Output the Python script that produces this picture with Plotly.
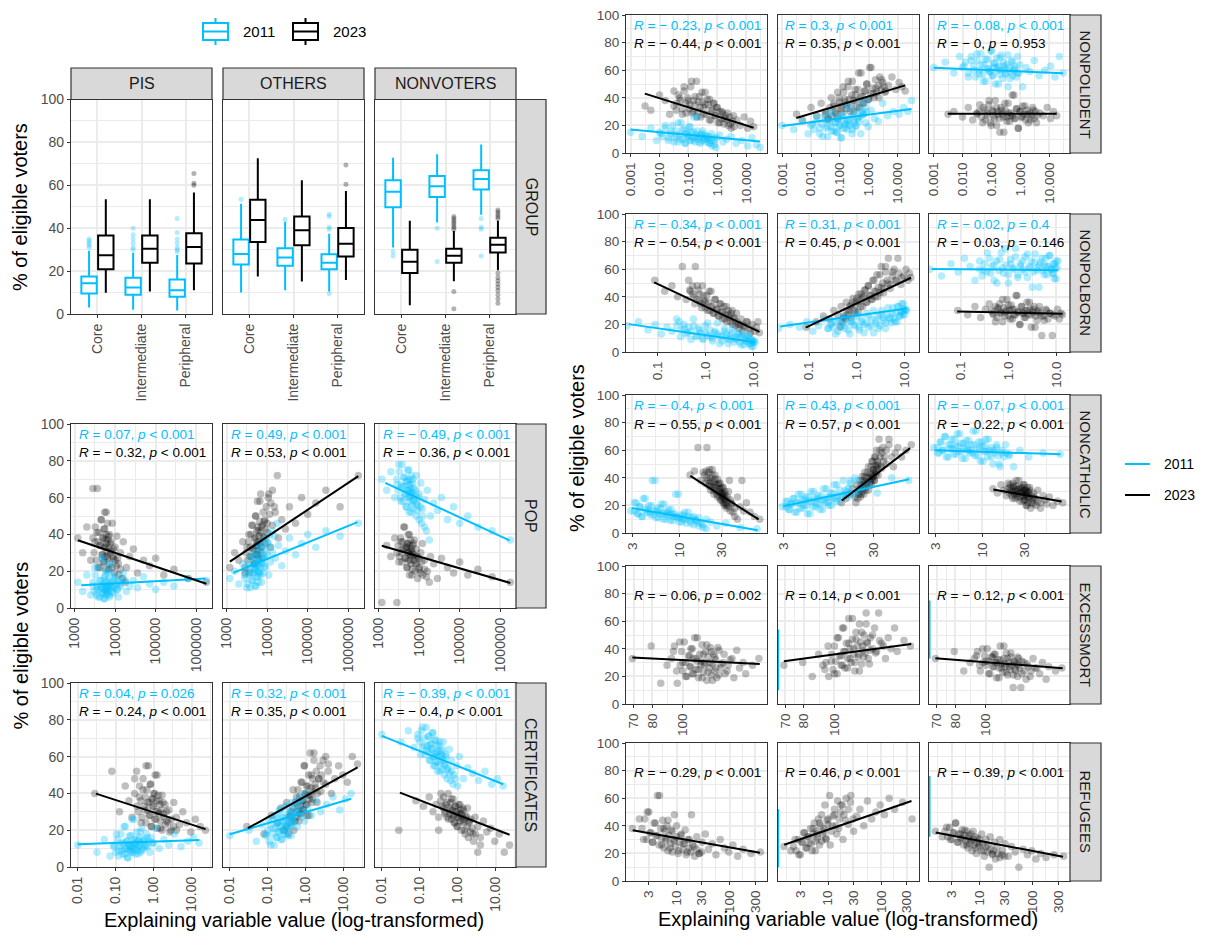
import plotly.graph_objects as go

W, H = 1207, 936
FONT = "Liberation Sans, Arial, sans-serif"
BLUE = "#00BFFF"
BLACK = "#000000"
BLUE_PT = "rgba(0,191,255,0.30)"
BLACK_PT = "rgba(0,0,0,0.25)"
GRID = "#EBEBEB"
BORDER = "#333333"
TICKC = "#4D4D4D"
STRIPC = "#D9D9D9"
STRIP_TXT = "#1A1A1A"

years = ["2011", "2023"]
groups = ["PIS", "OTHERS", "NONVOTERS"]
categories = ["Core", "Intermediate", "Peripheral"]
y_ticks = [0, 20, 40, 60, 80, 100]
y_minor = [10, 30, 50, 70, 90]

# ---------------- GROUP boxplots (Core, Intermediate, Peripheral) ----------------
pis_2011_q1 = [9.5, 9.0, 8.0]
pis_2011_med = [14.3, 12.3, 11.1]
pis_2011_q3 = [17.5, 16.9, 16.1]
pis_2011_lo = [3.0, 2.0, 1.6]
pis_2011_hi = [29.5, 28.5, 27.5]
pis_2011_out = {"Core": [31, 32, 33, 34, 35], "Intermediate": [30, 31, 33, 35, 37, 40],
                "Peripheral": [29, 30, 31, 33, 35, 38, 44.5]}
pis_2023_q1 = [20.9, 23.9, 23.6]
pis_2023_med = [27.4, 30.4, 31.2]
pis_2023_q3 = [36.6, 36.6, 37.6]
pis_2023_lo = [9.9, 10.5, 11.1]
pis_2023_hi = [53.5, 53.5, 56.7]
pis_2023_out = {"Peripheral": [60, 61, 65.5]}
oth_2011_q1 = [23.1, 22.5, 20.9]
oth_2011_med = [28.0, 26.3, 23.9]
oth_2011_q3 = [34.7, 30.7, 27.9]
oth_2011_lo = [10.0, 11.1, 10.5]
oth_2011_hi = [51.4, 43.0, 37.4]
oth_2011_out = {"Core": [53.5], "Intermediate": [44], "Peripheral": [9.5, 39.5, 40.5, 45.5, 46.5]}
oth_2023_q1 = [33.6, 32.0, 26.8]
oth_2023_med = [43.8, 39.0, 32.8]
oth_2023_q3 = [53.3, 45.4, 40.1]
oth_2023_lo = [17.5, 15.1, 15.9]
oth_2023_hi = [72.6, 62.3, 57.3]
oth_2023_out = {"Peripheral": [60.5, 69.5]}
nv_2011_q1 = [49.8, 54.5, 58.1]
nv_2011_med = [57.0, 59.6, 62.9]
nv_2011_q3 = [62.3, 64.3, 67.0]
nv_2011_lo = [31.0, 42.7, 46.3]
nv_2011_hi = [72.9, 74.5, 79.0]
nv_2011_out = {"Core": [29, 27], "Intermediate": [40, 24.5], "Peripheral": [44.5, 39.5, 40.5, 27]}
nv_2023_q1 = [19.1, 23.9, 28.7]
nv_2023_med = [24.4, 27.1, 32.3]
nv_2023_q3 = [29.9, 30.4, 35.5]
nv_2023_lo = [4.1, 15.3, 20.4]
nv_2023_hi = [43.5, 38.7, 43.5]
nv_2023_out = {"Intermediate": [39.5, 40.5, 41.5, 42.5, 43.5, 44.5, 45.5, 10.5, 2.5],
               "Peripheral": [44.5, 45.5, 46.5, 47.5, 48.5, 19, 17, 15.5, 14, 12.5, 11, 9, 7, 5]}

# ---------------- explanatory variables (x): full spread + dense core municipalities ----------------
pop_x = [1200, 1580, 2000, 2500, 2820, 3160, 3550, 3800, 4170, 4470, 4790, 5010, 5250, 5500, 5750,
         6030, 6310, 6610, 6920, 7240, 7590, 7940, 8510, 9120, 10000, 10960, 12020, 13490, 15850,
         19050, 22910, 28180, 35480, 50120, 70790, 100000, 158500, 281800, 631000, 1778000]
pop_x_core = [2820, 3020, 3240, 3470, 3630, 3800, 3980, 4170, 4370, 4570, 4790, 5010, 5130, 5250,
              5370, 5500, 5620, 5750, 5890, 6030, 6170, 6310, 6460, 6610, 6760, 6920, 7240, 7590,
              7940, 8320, 8710, 9120, 9550, 10000, 10700, 11500, 12300, 13500, 15100, 17800]
cert_x_2011 = [0.010, 0.032, 0.050, 0.071, 0.089, 0.105, 0.12, 0.135, 0.151, 0.166, 0.182, 0.195,
               0.209, 0.224, 0.24, 0.251, 0.269, 0.282, 0.302, 0.316, 0.339, 0.363, 0.389, 0.417,
               0.447, 0.49, 0.537, 0.603, 0.676, 0.794, 0.933, 1.12, 1.41, 1.86, 2.51, 3.55, 5.25,
               7.94, 11.2, 15.8]
cert_x_core_2011 = [0.089, 0.1, 0.11, 0.12, 0.129, 0.138, 0.148, 0.158, 0.17, 0.178, 0.186, 0.195,
                    0.204, 0.214, 0.224, 0.234, 0.245, 0.257, 0.269, 0.282, 0.295, 0.309, 0.324, 0.339,
                    0.355, 0.372, 0.389, 0.407, 0.427, 0.447, 0.468, 0.49, 0.525, 0.562, 0.603, 0.646,
                    0.692, 0.759, 0.851, 1.0]
cert_x_2023 = [0.028, 0.079, 0.126, 0.178, 0.224, 0.269, 0.316, 0.363, 0.417, 0.468, 0.525, 0.575,
               0.631, 0.692, 0.759, 0.813, 0.871, 0.933, 1.0, 1.07, 1.15, 1.23, 1.32, 1.41, 1.51,
               1.66, 1.82, 2.0, 2.24, 2.51, 2.88, 3.39, 3.98, 4.79, 5.89, 7.41, 9.55, 12.6, 17.0, 23.4]
cert_x_core_2023 = [0.316, 0.355, 0.389, 0.427, 0.457, 0.49, 0.525, 0.562, 0.603, 0.631, 0.661, 0.692,
                    0.724, 0.759, 0.794, 0.832, 0.871, 0.912, 0.955, 1.0, 1.05, 1.1, 1.15, 1.2, 1.26,
                    1.32, 1.38, 1.45, 1.51, 1.58, 1.66, 1.78, 1.91, 2.04, 2.19, 2.4, 2.63, 2.95, 3.39, 3.98]
nonpolident_x_2011 = [0.001, 0.0025, 0.005, 0.0079, 0.0112, 0.0158, 0.02, 0.0251, 0.0316, 0.038,
                      0.0447, 0.0525, 0.0631, 0.0741, 0.0871, 0.1, 0.115, 0.132, 0.151, 0.174, 0.2,
                      0.229, 0.269, 0.316, 0.372, 0.437, 0.525, 0.631, 0.776, 0.955, 1.2, 1.58,
                      2.14, 3.02, 4.47, 7.08, 11.2, 15.8, 22.4, 30.2]
nonpolident_x_core_2011 = [0.01, 0.0126, 0.0158, 0.02, 0.024, 0.0282, 0.0331, 0.038, 0.0437, 0.0501,
                           0.0562, 0.0631, 0.0708, 0.0794, 0.0871, 0.0955, 0.105, 0.115, 0.126, 0.138,
                           0.151, 0.166, 0.182, 0.2, 0.219, 0.24, 0.263, 0.288, 0.316, 0.347, 0.38,
                           0.417, 0.457, 0.501, 0.55, 0.603, 0.661, 0.724, 0.794, 0.891]
nonpolident_x_2023 = [0.00316, 0.005, 0.01, 0.0158, 0.0224, 0.0316, 0.0398, 0.0501, 0.0603, 0.0708,
                      0.0832, 0.0977, 0.112, 0.129, 0.148, 0.17, 0.195, 0.224, 0.257, 0.295, 0.339,
                      0.389, 0.447, 0.525, 0.617, 0.724, 0.851, 1.0, 1.2, 1.45, 1.78, 2.24, 2.82,
                      3.63, 4.79, 6.31, 8.51, 11.2, 14.1, 18.2]
nonpolident_x_core_2023 = [0.0316, 0.038, 0.0447, 0.0525, 0.0617, 0.0708, 0.0813, 0.0933, 0.107, 0.12,
                           0.135, 0.151, 0.17, 0.191, 0.214, 0.24, 0.269, 0.302, 0.339, 0.38, 0.427,
                           0.479, 0.537, 0.603, 0.676, 0.759, 0.851, 0.955, 1.07, 1.2, 1.35, 1.51, 1.7,
                           1.91, 2.14, 2.4, 2.69, 3.02, 3.39, 3.8]
nonpolborn_x_2011 = [0.0229, 0.0398, 0.0631, 0.0891, 0.12, 0.158, 0.2, 0.251, 0.302, 0.363, 0.427,
                     0.501, 0.575, 0.661, 0.759, 0.871, 1.0, 1.12, 1.26, 1.41, 1.58, 1.78, 2.0, 2.24,
                     2.51, 2.82, 3.16, 3.55, 3.98, 4.47, 5.01, 5.62, 6.31, 7.08, 7.94, 8.71, 9.33,
                     10.0, 10.5, 11.0]
nonpolborn_x_core_2011 = [0.251, 0.282, 0.316, 0.355, 0.398, 0.447, 0.501, 0.562, 0.631, 0.708, 0.794,
                          0.891, 1.0, 1.12, 1.26, 1.41, 1.58, 1.78, 2.0, 2.24, 2.51, 2.75, 3.02, 3.31,
                          3.63, 3.98, 4.37, 4.79, 5.25, 5.62, 6.03, 6.46, 6.92, 7.41, 7.94, 8.32, 8.71,
                          9.12, 9.55, 10.0]
nonpolborn_x_2023 = [0.0871, 0.141, 0.2, 0.263, 0.331, 0.398, 0.468, 0.537, 0.603, 0.676, 0.759,
                     0.832, 0.912, 1.0, 1.1, 1.2, 1.32, 1.45, 1.58, 1.74, 1.91, 2.09, 2.29, 2.51,
                     2.75, 3.02, 3.31, 3.63, 3.98, 4.47, 5.01, 5.62, 6.31, 7.24, 8.32, 9.55, 10.7,
                     11.7, 12.6, 13.5]
nonpolborn_x_core_2023 = [0.447, 0.49, 0.537, 0.575, 0.617, 0.661, 0.708, 0.759, 0.813, 0.871, 0.933,
                          1.0, 1.07, 1.15, 1.23, 1.32, 1.41, 1.51, 1.62, 1.74, 1.86, 2.0, 2.14, 2.29,
                          2.45, 2.63, 2.82, 3.02, 3.24, 3.47, 3.72, 3.98, 4.27, 4.57, 5.01, 5.5, 6.03,
                          6.76, 7.59, 8.71]
noncatholic_x_2011 = [2.88, 3.16, 3.39, 3.63, 3.89, 4.17, 4.47, 4.68, 4.9, 5.13, 5.37, 5.62, 5.89,
                      6.17, 6.46, 6.76, 7.08, 7.41, 7.76, 8.13, 8.51, 8.91, 9.33, 9.77, 10.2, 10.7,
                      11.2, 11.7, 12.6, 13.5, 14.5, 15.5, 16.6, 18.2, 20.0, 22.4, 26.3, 33.1, 47.9, 74.1]
noncatholic_x_core_2011 = [3.16, 3.31, 3.47, 3.63, 3.8, 3.98, 4.17, 4.37, 4.57, 4.79, 5.01, 5.25, 5.5,
                           5.75, 6.03, 6.31, 6.61, 6.92, 7.24, 7.59, 7.94, 8.32, 8.71, 9.12, 9.55, 10.0,
                           10.5, 11.0, 11.5, 12.0, 12.6, 13.2, 13.8, 14.5, 15.1, 15.8, 16.6, 17.4,
                           18.6, 20.0]
noncatholic_x_2023 = [13.2, 14.8, 16.2, 17.4, 18.6, 19.5, 20.4, 21.4, 21.9, 22.4, 22.9, 23.4, 24.0,
                      24.5, 25.1, 25.7, 26.3, 26.9, 27.5, 28.2, 28.8, 29.5, 30.2, 30.9, 31.6, 32.4,
                      33.1, 33.9, 35.5, 37.2, 38.9, 41.7, 44.7, 47.9, 50.1, 52.5, 56.2, 61.7, 69.2, 79.4]
noncatholic_x_core_2023 = [19.1, 20.0, 20.4, 20.9, 21.4, 21.9, 22.4, 22.9, 23.4, 24.0, 24.5, 25.1,
                           25.7, 26.3, 26.9, 27.5, 28.2, 28.5, 28.8, 29.2, 29.5, 29.9, 30.2, 30.5,
                           30.9, 31.3, 31.6, 32.0, 32.4, 32.7, 33.1, 33.9, 34.7, 35.5, 36.3, 37.2,
                           38.0, 39.8, 41.7, 44.7]
excessmort_x_2023 = [69.2, 79.4, 85.1, 89.1, 93.3, 95.5, 97.7, 100, 102, 105, 106, 107, 108, 110,
                     111, 112, 114, 115, 116, 117, 119, 120, 122, 123, 124, 126, 127, 129, 130, 132,
                     135, 138, 141, 145, 148, 151, 155, 158, 166, 174]
excessmort_x_core_2023 = [92, 94, 96, 98, 99, 100, 101, 102, 103, 104, 105, 106, 107, 108, 109, 110,
                          111, 112, 113, 114, 115, 116, 117, 118, 119, 120, 121, 122, 123, 124, 125,
                          126, 127, 128, 130, 132, 134, 136, 139, 143]
refugees_x_2023 = [1.48, 2.0, 2.4, 2.82, 3.16, 3.55, 3.98, 4.37, 4.79, 5.25, 5.75, 6.31, 6.92, 7.59,
                   8.32, 9.12, 10.0, 11.0, 12.0, 13.2, 14.5, 15.8, 17.4, 19.1, 21.4, 24.0, 26.9,
                   30.2, 34.7, 39.8, 46.8, 55.0, 66.1, 79.4, 95.5, 115, 141, 178, 251, 380]
refugees_x_core_2023 = [2.24, 2.51, 2.75, 3.02, 3.31, 3.55, 3.8, 4.07, 4.37, 4.68, 5.01, 5.25, 5.5,
                        5.75, 6.03, 6.31, 6.61, 6.92, 7.24, 7.59, 7.94, 8.32, 8.71, 9.12, 9.55, 10.0,
                        10.7, 11.5, 12.3, 13.2, 14.1, 15.1, 16.2, 17.4, 18.6, 20.0, 21.9, 24.0, 26.3, 29.5]

# ---------------- % of eligible voters (y) ----------------
pop_pis_2011 = [14, 9, 18, 7, 12, 22, 10, 6, 15, 11, 27, 8, 13, 5, 17, 10, 9, 20, 12, 7,
                14, 11, 24, 8, 16, 10, 6, 13, 19, 9, 12, 15, 11, 17, 13, 10, 14, 12, 16, 15]
pop_pis_2023 = [38, 30, 44, 26, 65, 36, 41, 22, 34, 48, 29, 38, 25, 43, 33, 52, 28, 37, 21, 40,
                35, 31, 46, 27, 33, 39, 24, 30, 36, 22, 28, 32, 19, 26, 23, 27, 18, 21, 16, 14]
pop_oth_2011 = [16, 20, 13, 24, 18, 11, 22, 28, 15, 19, 25, 21, 12, 30, 23, 17, 26, 20, 33, 14,
                24, 19, 28, 22, 36, 18, 25, 30, 27, 34, 23, 31, 38, 29, 35, 40, 33, 42, 39, 46]
pop_oth_2023 = [22, 30, 26, 36, 19, 33, 40, 28, 45, 32, 24, 38, 50, 34, 29, 42, 36, 58, 31, 44,
                27, 39, 47, 35, 41, 62, 33, 45, 52, 38, 48, 43, 55, 46, 60, 51, 57, 64, 55, 72]
pop_nv_2011 = [70, 64, 74, 60, 67, 78, 58, 66, 71, 62, 55, 69, 64, 75, 60, 67, 52, 63, 70, 58,
               65, 61, 72, 56, 62, 68, 54, 59, 64, 50, 57, 53, 60, 48, 55, 46, 50, 44, 42, 37]
pop_nv_2023 = [3, 34, 28, 38, 30, 25, 36, 32, 44, 27, 33, 22, 35, 30, 40, 26, 31, 18, 34, 29,
               37, 24, 32, 28, 21, 30, 35, 26, 20, 28, 24, 16, 27, 22, 19, 25, 18, 21, 17, 14]

cert_pis_2011 = [12, 8, 15, 6, 11, 18, 9, 13, 7, 22, 10, 14, 5, 12, 9, 17, 11, 8, 26, 13,
                 10, 15, 7, 12, 19, 9, 14, 11, 16, 8, 13, 21, 10, 15, 12, 18, 11, 14, 16, 13]
cert_pis_2023 = [40, 52, 30, 44, 36, 27, 48, 33, 38, 24, 42, 31, 55, 35, 28, 45, 22, 37, 33, 40,
                 26, 50, 30, 36, 21, 39, 29, 34, 25, 31, 20, 35, 27, 23, 30, 24, 19, 26, 22, 20]
cert_oth_2011 = [17, 20, 14, 23, 18, 26, 12, 21, 28, 16, 24, 19, 31, 22, 15, 27, 20, 25, 18, 33,
                 23, 21, 29, 17, 26, 24, 30, 22, 35, 27, 25, 32, 28, 36, 30, 34, 38, 31, 37, 40]
cert_oth_2023 = [22, 18, 28, 24, 32, 20, 35, 27, 30, 42, 25, 38, 33, 29, 46, 36, 31, 55, 40, 34,
                 44, 28, 39, 50, 37, 62, 43, 35, 48, 41, 58, 45, 52, 40, 48, 55, 50, 46, 60, 56]
cert_nv_2011 = [72, 68, 74, 65, 70, 61, 76, 66, 63, 71, 58, 67, 64, 73, 60, 55, 69, 62, 57, 66,
                52, 63, 60, 68, 56, 61, 53, 64, 58, 50, 55, 60, 48, 54, 51, 47, 52, 45, 48, 44]
cert_nv_2023 = [20, 36, 33, 38, 30, 34, 27, 40, 32, 29, 35, 26, 31, 37, 28, 24, 33, 30, 22, 27,
                34, 29, 25, 31, 20, 28, 32, 24, 26, 18, 27, 22, 16, 25, 19, 21, 14, 18, 8, 12]

nonpolident_pis_2011 = [15, 12, 18, 9, 14, 20, 11, 16, 8, 13, 22, 10, 17, 7, 14, 12, 19, 9, 15, 11,
                        26, 8, 13, 16, 10, 12, 7, 14, 9, 11, 13, 8, 10, 12, 7, 9, 5, 11, 6, 4]
nonpolident_pis_2023 = [34, 31, 42, 38, 28, 45, 36, 40, 32, 48, 29, 38, 35, 52, 30, 41, 26, 37, 33, 44,
                        28, 35, 39, 24, 31, 36, 27, 33, 22, 30, 25, 29, 21, 27, 24, 20, 26, 18, 23, 19]
nonpolident_oth_2011 = [20, 17, 23, 14, 21, 26, 18, 12, 24, 19, 29, 16, 22, 15, 25, 20, 11, 27, 18, 23,
                        21, 33, 17, 24, 20, 26, 14, 28, 22, 19, 31, 25, 23, 36, 27, 30, 28, 33, 30, 38]
nonpolident_oth_2023 = [28, 24, 33, 27, 36, 30, 25, 40, 34, 29, 44, 37, 32, 48, 39, 35, 52, 30, 42, 38,
                        46, 33, 58, 41, 36, 45, 50, 39, 62, 43, 47, 40, 53, 44, 49, 55, 46, 51, 48, 45]
nonpolident_nv_2011 = [62, 66, 58, 70, 63, 55, 67, 60, 72, 57, 64, 52, 68, 61, 59, 74, 56, 65, 62, 50,
                       69, 60, 63, 57, 71, 54, 66, 61, 58, 64, 48, 62, 59, 67, 56, 60, 63, 55, 70, 58]
nonpolident_nv_2023 = [28, 30, 26, 33, 24, 29, 35, 22, 31, 27, 38, 20, 30, 25, 33, 28, 15, 31, 26, 36,
                       23, 29, 27, 42, 25, 32, 18, 30, 26, 34, 28, 24, 31, 22, 29, 27, 33, 25, 30, 27]

nonpolborn_pis_2011 = [19, 22, 16, 20, 13, 18, 15, 24, 11, 17, 14, 9, 19, 12, 16, 10, 14, 21, 11, 8,
                       15, 13, 6, 12, 17, 10, 9, 14, 7, 11, 13, 5, 10, 8, 12, 6, 9, 4, 8, 7]
nonpolborn_pis_2023 = [52, 44, 48, 40, 62, 38, 45, 42, 35, 48, 37, 32, 41, 36, 30, 44, 33, 28, 38, 31,
                       26, 35, 29, 24, 33, 27, 22, 30, 25, 28, 20, 24, 19, 22, 17, 20, 15, 18, 22, 14]
nonpolborn_oth_2011 = [17, 20, 18, 22, 15, 19, 24, 17, 21, 13, 23, 19, 26, 16, 22, 20, 28, 18, 24, 14,
                       21, 26, 19, 30, 23, 17, 27, 25, 21, 32, 24, 28, 22, 33, 26, 29, 35, 27, 31, 30]
nonpolborn_oth_2023 = [18, 22, 26, 24, 30, 27, 33, 25, 36, 30, 34, 39, 29, 37, 42, 33, 40, 45, 36, 48,
                       41, 38, 52, 44, 40, 56, 47, 43, 62, 50, 46, 58, 52, 68, 49, 55, 60, 52, 57, 54]
nonpolborn_nv_2011 = [60, 55, 64, 58, 68, 62, 52, 66, 59, 72, 57, 63, 50, 67, 61, 75, 56, 64, 60, 69,
                      54, 62, 66, 58, 71, 61, 47, 65, 59, 63, 68, 56, 62, 70, 60, 57, 64, 53, 61, 66]
nonpolborn_nv_2023 = [30, 27, 33, 25, 31, 35, 28, 22, 32, 29, 38, 26, 30, 34, 24, 31, 27, 41, 29, 20,
                      33, 28, 25, 30, 36, 27, 31, 18, 29, 33, 26, 23, 30, 28, 12, 26, 31, 24, 28, 27]

noncatholic_pis_2011 = [16, 22, 14, 19, 12, 25, 17, 15, 20, 13, 38, 16, 11, 18, 14, 21, 10, 15, 13, 17,
                        9, 14, 12, 28, 11, 8, 13, 10, 15, 7, 12, 9, 11, 6, 10, 8, 5, 7, 4, 3]
noncatholic_pis_2023 = [42, 45, 62, 38, 44, 36, 40, 34, 46, 31, 37, 42, 33, 28, 39, 35, 30, 26, 36, 32,
                        24, 29, 27, 33, 22, 28, 25, 20, 30, 24, 21, 18, 26, 19, 38, 16, 22, 15, 12, 10]
noncatholic_oth_2011 = [19, 23, 17, 21, 25, 15, 22, 28, 18, 24, 20, 26, 14, 23, 30, 19, 25, 21, 27, 17,
                        24, 32, 22, 26, 20, 29, 25, 35, 23, 27, 31, 26, 38, 28, 30, 33, 36, 29, 40, 38]
noncatholic_oth_2023 = [22, 25, 28, 32, 26, 35, 30, 38, 28, 41, 33, 36, 44, 31, 40, 37, 48, 35, 43, 39,
                        52, 41, 46, 38, 55, 44, 49, 42, 60, 47, 52, 50, 68, 55, 48, 58, 62, 55, 60, 64]
noncatholic_nv_2011 = [62, 58, 66, 60, 70, 55, 64, 61, 68, 57, 63, 72, 59, 65, 54, 62, 67, 60, 58, 64,
                       74, 56, 61, 66, 52, 63, 59, 68, 55, 60, 62, 50, 58, 64, 56, 48, 60, 55, 58, 57]
noncatholic_nv_2023 = [32, 29, 35, 31, 27, 36, 33, 30, 25, 34, 28, 31, 38, 26, 32, 29, 23, 33, 30, 27,
                       35, 24, 31, 28, 20, 30, 26, 33, 22, 29, 25, 31, 18, 27, 24, 21, 26, 20, 23, 22]

excessmort_pis_2023 = [33, 42, 15, 28, 38, 24, 45, 30, 20, 35, 27, 40, 22, 33, 48, 25, 31, 19, 36, 28,
                       43, 23, 30, 38, 17, 34, 26, 41, 21, 29, 36, 24, 32, 19, 39, 26, 30, 22, 28, 33]
excessmort_oth_2023 = [28, 30, 20, 36, 25, 42, 31, 22, 48, 35, 28, 55, 38, 26, 44, 33, 62, 40, 30, 47,
                       36, 24, 52, 42, 34, 58, 45, 29, 39, 50, 37, 66, 44, 33, 48, 40, 55, 38, 46, 42]
excessmort_nv_2023 = [33, 38, 24, 30, 35, 28, 40, 31, 22, 34, 27, 36, 30, 19, 32, 26, 42, 29, 23, 33,
                      27, 37, 21, 30, 25, 34, 28, 12, 31, 24, 29, 20, 33, 26, 22, 30, 18, 27, 24, 26]

refugees_pis_2023 = [38, 45, 30, 50, 35, 28, 42, 33, 62, 26, 38, 31, 44, 24, 36, 29, 40, 22, 33, 27,
                     37, 21, 30, 48, 25, 32, 20, 28, 34, 23, 27, 19, 30, 24, 21, 26, 18, 23, 20, 21]
refugees_oth_2023 = [25, 22, 30, 19, 28, 35, 24, 32, 27, 38, 22, 34, 42, 29, 36, 31, 45, 26, 40, 48,
                     34, 38, 55, 30, 44, 41, 62, 36, 47, 52, 40, 58, 45, 50, 55, 48, 60, 52, 57, 45]
refugees_nv_2023 = [36, 32, 39, 30, 35, 42, 28, 34, 31, 37, 26, 33, 29, 36, 24, 31, 27, 34, 22, 30,
                    26, 32, 20, 28, 25, 30, 22, 27, 18, 25, 21, 10, 23, 19, 22, 16, 20, 17, 19, 18]

# 2011 values without a valid (log) explanatory value: drawn at the lower x limit
excessmort_2011_edge = [None, (10, 54), (33, 75)]
refugees_2011_edge = [None, (10, 52), (32, 76)]

# ---------------- linear fits: x extent and (y at x0, y at x1) per group ----------------
pop_fit_x = {"2011": (1450, 1700000), "2023": (1200, 1780000)}
pop_fit_y = {"2011": [(12.3, 16.0), (19.1, 46.7), (68.0, 36.8)],
             "2023": [(36.8, 13.2), (25.2, 71.7), (33.8, 13.6)]}
cert_fit_x = {"2011": (0.010, 16.0), "2023": (0.030, 23.5)}
cert_fit_y = {"2011": [(12.3, 14.7), (17.8, 37.1), (71.3, 45.0)],
              "2023": [(39.9, 20.6), (21.1, 54.2), (40.4, 17.5)]}
nonpolident_fit_x = {"2011": (0.001, 30.0), "2023": (0.0031, 18.2)}
nonpolident_fit_y = {"2011": [(17.1, 8.3), (19.6, 31.9), (61.8, 57.8)],
                     "2023": [(43.0, 18.3), (25.4, 49.0), (28.4, 28.4)]}
nonpolborn_fit_x = {"2011": (0.025, 11.0), "2023": (0.085, 13.6)}
nonpolborn_fit_y = {"2011": [(20.2, 7.1), (18.4, 31.6), (60.1, 59.3)],
                    "2023": [(50.5, 14.6), (17.7, 53.8), (29.3, 27.8)]}
noncatholic_fit_x = {"2011": (2.95, 75.0), "2023": (13.3, 77.0)}
noncatholic_fit_y = {"2011": [(18.1, 2.0), (19.4, 39.0), (60.0, 57.0)],
                     "2023": [(41.4, 9.9), (23.6, 61.5), (31.5, 22.8)]}
excessmort_fit_x = {"2023": (69.2, 175.0)}
excessmort_fit_y = {"2023": [(33.7, 28.9), (30.9, 43.5), (33.2, 25.9)]}
refugees_fit_x = {"2023": (1.5, 370.0)}
refugees_fit_y = {"2023": [(36.7, 20.5), (26.3, 58.0), (35.2, 17.5)]}

# ---------------- correlation labels (R, p) ----------------
pop_cor = {"2011": [("0.07", "< 0.001"), ("0.49", "< 0.001"), ("-0.49", "< 0.001")],
           "2023": [("-0.32", "< 0.001"), ("0.53", "< 0.001"), ("-0.36", "< 0.001")]}
cert_cor = {"2011": [("0.04", "= 0.026"), ("0.32", "< 0.001"), ("-0.39", "< 0.001")],
            "2023": [("-0.24", "< 0.001"), ("0.35", "< 0.001"), ("-0.4", "< 0.001")]}
nonpolident_cor = {"2011": [("-0.23", "< 0.001"), ("0.3", "< 0.001"), ("-0.08", "< 0.001")],
                   "2023": [("-0.44", "< 0.001"), ("0.35", "< 0.001"), ("-0", "= 0.953")]}
nonpolborn_cor = {"2011": [("-0.34", "< 0.001"), ("0.31", "< 0.001"), ("-0.02", "= 0.4")],
                  "2023": [("-0.54", "< 0.001"), ("0.45", "< 0.001"), ("-0.03", "= 0.146")]}
noncatholic_cor = {"2011": [("-0.4", "< 0.001"), ("0.43", "< 0.001"), ("-0.07", "< 0.001")],
                   "2023": [("-0.55", "< 0.001"), ("0.57", "< 0.001"), ("-0.22", "< 0.001")]}
excessmort_cor = {"2023": [("-0.06", "= 0.002"), ("0.14", "< 0.001"), ("-0.12", "< 0.001")]}
refugees_cor = {"2023": [("-0.29", "< 0.001"), ("0.46", "< 0.001"), ("-0.39", "< 0.001")]}

# ---------------- axis scales (log10 ranges, ticks) ----------------
x_ranges = {"POP": [2.91, 6.39], "CERTIFICATES": [-2.18, 1.54], "NONPOLIDENT": [-3.16, 1.72],
            "NONPOLBORN": [-1.66, 1.29], "NONCATHOLIC": [0.406, 1.98],
            "EXCESSMORT": [1.82, 2.266], "REFUGEES": [0.05, 2.70]}
x_tickvals = {"POP": [1000, 10000, 100000, 1000000], "CERTIFICATES": [0.01, 0.1, 1, 10],
              "NONPOLIDENT": [0.001, 0.01, 0.1, 1, 10], "NONPOLBORN": [0.1, 1, 10],
              "NONCATHOLIC": [3, 10, 30], "EXCESSMORT": [70, 80, 100], "REFUGEES": [3, 10, 30, 100, 300]}
x_ticktext = {"POP": ["1000", "10000", "100000", "1000000"],
              "CERTIFICATES": ["0.01", "0.10", "1.00", "10.00"],
              "NONPOLIDENT": ["0.001", "0.010", "0.100", "1.000", "10.000"],
              "NONPOLBORN": ["0.1", "1.0", "10.0"], "NONCATHOLIC": ["3", "10", "30"],
              "EXCESSMORT": ["70", "80", "100"], "REFUGEES": ["3", "10", "30", "100", "300"]}
x_minor = {"POP": [3162, 31623, 316228], "CERTIFICATES": [0.0316, 0.316, 3.16, 31.6],
           "NONPOLIDENT": [0.00316, 0.0316, 0.316, 3.16, 31.6], "NONPOLBORN": [0.0316, 0.316, 3.16],
           "NONCATHOLIC": [5.48, 17.3, 52.0], "EXCESSMORT": [74.8, 89.4, 111.8],
           "REFUGEES": [1.64, 5.48, 17.3, 54.8, 173]}

rows = {
    "POP": dict(x={"2011": pop_x, "2023": pop_x}, xc={"2011": pop_x_core, "2023": pop_x_core},
                y={"2011": [pop_pis_2011, pop_oth_2011, pop_nv_2011],
                   "2023": [pop_pis_2023, pop_oth_2023, pop_nv_2023]},
                fx=pop_fit_x, fy=pop_fit_y, cor=pop_cor, edge=None),
    "CERTIFICATES": dict(x={"2011": cert_x_2011, "2023": cert_x_2023},
                         xc={"2011": cert_x_core_2011, "2023": cert_x_core_2023},
                         y={"2011": [cert_pis_2011, cert_oth_2011, cert_nv_2011],
                            "2023": [cert_pis_2023, cert_oth_2023, cert_nv_2023]},
                         fx=cert_fit_x, fy=cert_fit_y, cor=cert_cor, edge=None),
    "NONPOLIDENT": dict(x={"2011": nonpolident_x_2011, "2023": nonpolident_x_2023},
                        xc={"2011": nonpolident_x_core_2011, "2023": nonpolident_x_core_2023},
                        y={"2011": [nonpolident_pis_2011, nonpolident_oth_2011, nonpolident_nv_2011],
                           "2023": [nonpolident_pis_2023, nonpolident_oth_2023, nonpolident_nv_2023]},
                        fx=nonpolident_fit_x, fy=nonpolident_fit_y, cor=nonpolident_cor, edge=None),
    "NONPOLBORN": dict(x={"2011": nonpolborn_x_2011, "2023": nonpolborn_x_2023},
                       xc={"2011": nonpolborn_x_core_2011, "2023": nonpolborn_x_core_2023},
                       y={"2011": [nonpolborn_pis_2011, nonpolborn_oth_2011, nonpolborn_nv_2011],
                          "2023": [nonpolborn_pis_2023, nonpolborn_oth_2023, nonpolborn_nv_2023]},
                       fx=nonpolborn_fit_x, fy=nonpolborn_fit_y, cor=nonpolborn_cor, edge=None),
    "NONCATHOLIC": dict(x={"2011": noncatholic_x_2011, "2023": noncatholic_x_2023},
                        xc={"2011": noncatholic_x_core_2011, "2023": noncatholic_x_core_2023},
                        y={"2011": [noncatholic_pis_2011, noncatholic_oth_2011, noncatholic_nv_2011],
                           "2023": [noncatholic_pis_2023, noncatholic_oth_2023, noncatholic_nv_2023]},
                        fx=noncatholic_fit_x, fy=noncatholic_fit_y, cor=noncatholic_cor, edge=None),
    "EXCESSMORT": dict(x={"2023": excessmort_x_2023}, xc={"2023": excessmort_x_core_2023},
                       y={"2023": [excessmort_pis_2023, excessmort_oth_2023, excessmort_nv_2023]},
                       fx=excessmort_fit_x, fy=excessmort_fit_y, cor=excessmort_cor,
                       edge=excessmort_2011_edge),
    "REFUGEES": dict(x={"2023": refugees_x_2023}, xc={"2023": refugees_x_core_2023},
                     y={"2023": [refugees_pis_2023, refugees_oth_2023, refugees_nv_2023]},
                     fx=refugees_fit_x, fy=refugees_fit_y, cor=refugees_cor, edge=refugees_2011_edge),
}

box_stats = {
    "PIS": {"2011": (pis_2011_q1, pis_2011_med, pis_2011_q3, pis_2011_lo, pis_2011_hi, pis_2011_out),
            "2023": (pis_2023_q1, pis_2023_med, pis_2023_q3, pis_2023_lo, pis_2023_hi, pis_2023_out)},
    "OTHERS": {"2011": (oth_2011_q1, oth_2011_med, oth_2011_q3, oth_2011_lo, oth_2011_hi, oth_2011_out),
               "2023": (oth_2023_q1, oth_2023_med, oth_2023_q3, oth_2023_lo, oth_2023_hi, oth_2023_out)},
    "NONVOTERS": {"2011": (nv_2011_q1, nv_2011_med, nv_2011_q3, nv_2011_lo, nv_2011_hi, nv_2011_out),
                  "2023": (nv_2023_q1, nv_2023_med, nv_2023_q3, nv_2023_lo, nv_2023_hi, nv_2023_out)},
}

# ---------------- layout geometry (pixels) ----------------
left_cols = [(71, 212), (223, 364), (375, 516)]
right_cols = [(626, 767), (777.5, 918.5), (929, 1070)]
left_group_row = (99.5, 314)
left_rows = [("POP", 424, 608), ("CERTIFICATES", 683, 867)]
right_rows = [("NONPOLIDENT", 15, 153), ("NONPOLBORN", 214, 352), ("NONCATHOLIC", 395, 533),
              ("EXCESSMORT", 566, 704), ("REFUGEES", 743, 881)]
year_colors = {"2011": BLUE, "2023": BLACK}
year_pt = {"2011": BLUE_PT, "2023": BLACK_PT}

fig = go.Figure()
axes_layout = {}
annotations = []
shapes = []
counter = [0]


def px_x(p):
    return p / W


def px_y(p):
    return 1 - p / H


def add_panel(l, r, t, b, xcfg, ycfg):
    counter[0] += 1
    k = counter[0]
    s = "" if k == 1 else str(k)
    axes_layout["xaxis" + s] = dict(domain=[l / W, r / W], anchor="y" + s, **xcfg)
    axes_layout["yaxis" + s] = dict(domain=[1 - b / H, 1 - t / H], anchor="x" + s, **ycfg)
    return "x" + s, "y" + s


def base_axis(size):
    return dict(showline=True, mirror=True, linecolor=BORDER, linewidth=1.2,
                showgrid=True, gridcolor=GRID, gridwidth=1.6, zeroline=False,
                ticks="outside", ticklen=3, tickwidth=1, tickcolor=BORDER, automargin=False,
                tickfont=dict(family=FONT, size=size, color=TICKC), fixedrange=True)


def y_axis(first, size):
    d = base_axis(size)
    d.update(range=[0, 100], tickmode="array", tickvals=y_ticks,
             ticktext=[str(v) for v in y_ticks], showticklabels=first,
             ticks="outside" if first else "",
             minor=dict(tickvals=y_minor, showgrid=True, gridcolor=GRID, gridwidth=0.8))
    return d


def log_x_axis(row, size):
    d = base_axis(size)
    d.update(type="log", range=x_ranges[row], tickmode="array", tickvals=x_tickvals[row],
             ticktext=x_ticktext[row], tickangle=-90,
             minor=dict(tickvals=x_minor[row], showgrid=True, gridcolor=GRID, gridwidth=0.8))
    return d


def strip_col(l, r, t, b, text, size):
    shapes.append(dict(type="rect", xref="paper", yref="paper", x0=px_x(l), x1=px_x(r),
                       y0=px_y(b), y1=px_y(t), fillcolor=STRIPC, line=dict(color=BORDER, width=1.2),
                       layer="above"))
    annotations.append(dict(xref="paper", yref="paper", x=px_x((l + r) / 2), y=px_y((t + b) / 2),
                            text=text, showarrow=False, xanchor="center", yanchor="middle",
                            font=dict(family=FONT, size=size, color=STRIP_TXT)))


def strip_row(l, r, t, b, text, size):
    shapes.append(dict(type="rect", xref="paper", yref="paper", x0=px_x(l), x1=px_x(r),
                       y0=px_y(b), y1=px_y(t), fillcolor=STRIPC, line=dict(color=BORDER, width=1.2),
                       layer="above"))
    annotations.append(dict(xref="paper", yref="paper", x=px_x((l + r) / 2), y=px_y((t + b) / 2),
                            text=text, textangle=90, showarrow=False, xanchor="center",
                            yanchor="middle", font=dict(family=FONT, size=size, color=STRIP_TXT)))


def cor_label(r, p):
    r_s = "\u2212 " + r[1:] if r.startswith("-") else r
    p_s = p.replace("<", "&lt;")
    return "<i>R</i> = " + r_s + ", <i>p</i> " + p_s


# ---------------- GROUP row (boxplots) ----------------
t, b = left_group_row
for ci, g in enumerate(groups):
    l, r = left_cols[ci]
    xcfg = base_axis(14)
    xcfg.update(type="category", categoryorder="array", categoryarray=categories,
                range=[-0.6, 2.6], tickangle=-90)
    xr, yr = add_panel(l, r, t, b, xcfg, y_axis(ci == 0, 14))
    for yl in years:
        q1, med, q3, lo, hi, out = box_stats[g][yl]
        col = year_colors[yl]
        fig.add_trace(go.Box(x=categories, q1=q1, median=med, q3=q3, lowerfence=lo, upperfence=hi,
                             boxpoints=False, line=dict(color=col, width=2), fillcolor="white",
                             whiskerwidth=0, offsetgroup=yl, alignmentgroup="grp", xaxis=xr, yaxis=yr,
                             showlegend=False, hoverinfo="skip"))
        ox, oy = [], []
        for c in categories:
            for v in out.get(c, []):
                ox.append(c)
                oy.append(v)
        fig.add_trace(go.Box(x=ox, y=oy, boxpoints="all", jitter=0, pointpos=0,
                             line=dict(color="rgba(0,0,0,0)", width=0), fillcolor="rgba(0,0,0,0)",
                             marker=dict(color=col, size=5, opacity=0.3), whiskerwidth=0,
                             offsetgroup=yl, alignmentgroup="grp", xaxis=xr, yaxis=yr,
                             showlegend=False, hoverinfo="skip"))
    strip_col(l, r, 68, t, g, 16)
strip_row(516, 546, t, b, "GROUP", 16)


# ---------------- scatter rows ----------------
def scatter_row(name, t, b, cols, tick_size, strip_l, strip_r, strip_size, ann_x, first_off, second_off):
    spec = rows[name]
    h = b - t
    for ci in range(3):
        l, r = cols[ci]
        xr, yr = add_panel(l, r, t, b, log_x_axis(name, tick_size), y_axis(ci == 0, tick_size))
        yrs = [y for y in ["2023", "2011"] if y in spec["x"]]
        for yl in yrs:
            yv = spec["y"][yl][ci]
            fig.add_trace(go.Scatter(x=list(spec["x"][yl]) + list(spec["xc"][yl]), y=list(yv) + list(yv),
                                     mode="markers",
                                     marker=dict(size=7.5, color=year_pt[yl], line=dict(width=0)),
                                     xaxis=xr, yaxis=yr, showlegend=False, hoverinfo="skip"))
        if spec["edge"] is not None and spec["edge"][ci] is not None:
            lo, hi = spec["edge"][ci]
            xe = 10 ** x_ranges[name][0]
            fig.add_trace(go.Scatter(x=[xe, xe], y=[lo, hi], mode="lines",
                                     line=dict(color=BLUE, width=3), xaxis=xr, yaxis=yr,
                                     showlegend=False, hoverinfo="skip"))
        for yl in ["2011", "2023"]:
            if yl not in spec["fx"]:
                continue
            x0, x1 = spec["fx"][yl]
            y0, y1 = spec["fy"][yl][ci]
            fig.add_trace(go.Scatter(x=[x0, x1], y=[y0, y1], mode="lines",
                                     line=dict(color=year_colors[yl], width=2),
                                     xaxis=xr, yaxis=yr, showlegend=False, hoverinfo="skip"))
        for yl in ["2011", "2023"]:
            if yl not in spec["cor"]:
                continue
            rv, pv = spec["cor"][yl][ci]
            off = first_off if (yl == "2011") else second_off
            annotations.append(dict(xref=xr + " domain", yref=yr + " domain", x=ann_x,
                                    y=1 - off / h, text=cor_label(rv, pv), showarrow=False,
                                    xanchor="left", yanchor="middle",
                                    font=dict(family=FONT, size=13.5, color=year_colors[yl])))
    strip_row(strip_l, strip_r, t, b, name, strip_size)


for name, t, b in left_rows:
    scatter_row(name, t, b, left_cols, 14, 516, 546, 16, 0.045, 10.8, 28.7)
for name, t, b in right_rows:
    scatter_row(name, t, b, right_cols, 13.5, 1070, 1101, 15, 0.04, 10.5, 29.0)

# ---------------- titles ----------------
TITLE = dict(family=FONT, size=20, color="#000000")
for (xp, yp, txt, ang) in [(20, 207, "% of eligible voters", -90),
                           (20, 645.5, "% of eligible voters", -90),
                           (577, 448, "% of eligible voters", -90),
                           (293.5, 920, "Explaining variable value (log-transformed)", 0),
                           (848, 919, "Explaining variable value (log-transformed)", 0)]:
    annotations.append(dict(xref="paper", yref="paper", x=px_x(xp), y=px_y(yp), text=txt,
                            textangle=ang, showarrow=False, xanchor="center", yanchor="middle",
                            font=TITLE))

# ---------------- legends ----------------
for (bx, col, lab) in [(203, BLUE, "2011"), (293, BLACK, "2023")]:
    shapes.append(dict(type="rect", xref="paper", yref="paper", x0=px_x(bx), x1=px_x(bx + 25),
                       y0=px_y(40), y1=px_y(23), line=dict(color=col, width=2), fillcolor="white"))
    shapes.append(dict(type="line", xref="paper", yref="paper", x0=px_x(bx), x1=px_x(bx + 25),
                       y0=px_y(31.5), y1=px_y(31.5), line=dict(color=col, width=2)))
    shapes.append(dict(type="line", xref="paper", yref="paper", x0=px_x(bx + 12.5), x1=px_x(bx + 12.5),
                       y0=px_y(23), y1=px_y(18), line=dict(color=col, width=2)))
    shapes.append(dict(type="line", xref="paper", yref="paper", x0=px_x(bx + 12.5), x1=px_x(bx + 12.5),
                       y0=px_y(40), y1=px_y(45), line=dict(color=col, width=2)))
    annotations.append(dict(xref="paper", yref="paper", x=px_x(bx + 38), y=px_y(32), text=lab,
                            showarrow=False, xanchor="left", yanchor="middle",
                            font=dict(family=FONT, size=15, color="#000000")))

for (ly, col, lab) in [(464, BLUE, "2011"), (495, BLACK, "2023")]:
    shapes.append(dict(type="line", xref="paper", yref="paper", x0=px_x(1125), x1=px_x(1150),
                       y0=px_y(ly), y1=px_y(ly), line=dict(color=col, width=2)))
    annotations.append(dict(xref="paper", yref="paper", x=px_x(1162), y=px_y(ly), text=lab,
                            showarrow=False, xanchor="left", yanchor="middle",
                            font=dict(family=FONT, size=14, color="#000000")))

fig.update_layout(axes_layout)
fig.update_layout(
    width=W, height=H, margin=dict(l=0, r=0, t=0, b=0, autoexpand=False),
    paper_bgcolor="white", plot_bgcolor="white",
    boxmode="group", boxgap=0.24, boxgroupgap=0.08,
    font=dict(family=FONT), showlegend=False,
    annotations=annotations, shapes=shapes, hovermode=False,
)

fig.write_html("out.html", config={"displayModeBar": False},
               post_script="document.body.style.margin='0px';")
